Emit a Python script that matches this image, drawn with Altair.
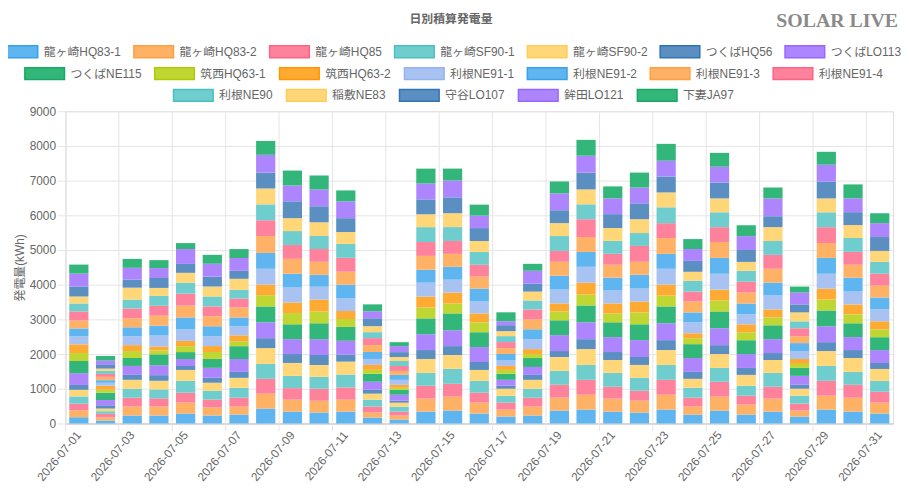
import altair as alt
import pandas as pd

dates = [f"2026-07-{d:02d}" for d in range(1, 32)]
label_dates = [f"2026-07-{d:02d}" for d in range(1, 32, 2)]

series = ["龍ヶ崎HQ83-1", "龍ヶ崎HQ83-2", "龍ヶ崎HQ85", "龍ヶ崎SF90-1", "龍ヶ崎SF90-2",
          "つくばHQ56", "つくばLO113", "つくばNE115", "筑西HQ63-1", "筑西HQ63-2",
          "利根NE91-1", "利根NE91-2", "利根NE91-3", "利根NE91-4", "利根NE90",
          "稲敷NE83", "守谷LO107", "鉾田LO121", "下妻JA97"]

# daily values per series (kWh), bottom to top of each stack
jul01 = [180, 200, 190, 210, 190, 140, 340, 350, 230, 250, 230, 230, 230, 260, 230, 200, 290, 370, 260]
jul02 = [86, 86, 105, 76, 76, 95, 152, 210, 86, 114, 86, 76, 95, 86, 86, 67, 105, 124, 133]
jul03 = [230, 257, 257, 257, 257, 143, 257, 229, 200, 171, 257, 257, 257, 286, 257, 343, 229, 343, 257]
jul04 = [230, 257, 238, 257, 248, 162, 286, 314, 114, 114, 314, 286, 286, 286, 286, 229, 286, 286, 229]
jul05 = [286, 314, 286, 343, 314, 114, 200, 200, 171, 152, 333, 343, 343, 343, 314, 286, 257, 429, 171]
jul06 = [230, 229, 229, 257, 229, 143, 286, 257, 200, 171, 286, 286, 286, 286, 286, 286, 286, 371, 257]
jul07 = [257, 229, 257, 286, 286, 171, 371, 371, 143, 171, 257, 257, 286, 257, 257, 314, 229, 371, 257]
jul08 = [429, 429, 429, 429, 457, 286, 457, 457, 324, 305, 457, 457, 486, 457, 457, 457, 457, 514, 400]
jul09 = [343, 343, 333, 353, 372, 257, 429, 429, 324, 305, 429, 400, 429, 400, 400, 372, 486, 457, 429]
jul10 = [314, 343, 343, 343, 343, 286, 457, 457, 343, 343, 372, 343, 372, 372, 372, 400, 457, 486, 400]
jul11 = [343, 343, 353, 372, 372, 200, 400, 400, 229, 229, 362, 400, 372, 400, 400, 343, 400, 486, 314]
jul12 = [172, 143, 172, 200, 172, 114, 229, 229, 114, 143, 172, 200, 200, 200, 172, 172, 229, 200, 200]
jul13 = [114, 114, 114, 143, 114, 57, 172, 143, 57, 86, 143, 143, 114, 143, 143, 114, 143, 172, 114]
jul14 = [343, 372, 372, 372, 400, 257, 457, 457, 314, 314, 400, 372, 400, 400, 429, 372, 429, 457, 429]
jul15 = [372, 400, 372, 429, 400, 257, 457, 486, 286, 314, 372, 372, 372, 372, 400, 400, 457, 486, 343]
jul16 = [286, 314, 286, 343, 314, 229, 429, 429, 286, 257, 343, 372, 343, 343, 372, 314, 372, 362, 314]
jul17 = [200, 200, 200, 200, 200, 86, 172, 172, 114, 114, 172, 172, 172, 172, 172, 143, 172, 114, 257]
jul18 = [229, 257, 257, 257, 257, 143, 229, 257, 114, 143, 286, 286, 286, 286, 257, 257, 229, 372, 200]
jul19 = [372, 372, 372, 400, 400, 172, 457, 429, 257, 229, 400, 400, 400, 314, 429, 372, 372, 486, 343]
jul20 = [400, 429, 429, 429, 457, 286, 486, 486, 314, 343, 457, 429, 429, 514, 429, 429, 486, 486, 457]
jul21 = [343, 372, 343, 400, 372, 229, 429, 429, 257, 286, 372, 372, 372, 314, 372, 372, 400, 457, 343]
jul22 = [314, 343, 286, 372, 372, 229, 486, 457, 343, 314, 372, 400, 372, 457, 372, 400, 457, 457, 429]
jul23 = [400, 429, 429, 429, 429, 286, 486, 486, 314, 314, 457, 429, 457, 429, 457, 429, 457, 457, 486]
jul24 = [257, 229, 257, 286, 257, 200, 400, 400, 172, 143, 314, 286, 314, 286, 314, 257, 314, 343, 286]
jul25 = [372, 400, 429, 400, 400, 257, 486, 486, 314, 314, 457, 457, 457, 429, 429, 400, 457, 457, 400]
jul26 = [257, 286, 257, 286, 314, 200, 400, 400, 229, 229, 286, 314, 314, 314, 314, 257, 343, 400, 314]
jul27 = [343, 372, 343, 400, 372, 200, 400, 400, 229, 229, 400, 372, 400, 400, 400, 400, 314, 514, 314]
jul28 = [200, 172, 200, 229, 200, 114, 257, 229, 114, 143, 229, 229, 200, 229, 200, 257, 229, 343, 172]
jul29 = [400, 400, 429, 429, 429, 257, 457, 457, 314, 314, 429, 457, 429, 457, 429, 400, 486, 486, 372]
jul30 = [343, 400, 372, 372, 400, 229, 372, 400, 257, 286, 372, 400, 372, 372, 400, 372, 372, 400, 400]
jul31 = [286, 314, 314, 314, 343, 172, 372, 372, 229, 229, 343, 343, 343, 343, 343, 314, 400, 400, 286]

days = [jul01, jul02, jul03, jul04, jul05, jul06, jul07, jul08, jul09, jul10, jul11,
        jul12, jul13, jul14, jul15, jul16, jul17, jul18, jul19, jul20, jul21, jul22,
        jul23, jul24, jul25, jul26, jul27, jul28, jul29, jul30, jul31]

base_fill = ["#5eb5ef", "#ffb266", "#ff829d", "#6fcdcd", "#ffd778", "#5b8fc2",
             "#ad85ff", "#33b679", "#c0d633", "#ffab33", "#a8c3f2"]
base_stroke = ["#36a2eb", "#ff9f40", "#ff6384", "#4bc0c0", "#ffcd56", "#3273b3",
               "#9966ff", "#1aa865", "#b0cc00", "#ff9600", "#92b4ef"]
fills = [base_fill[i % 11] for i in range(len(series))]
strokes = [base_stroke[i % 11] for i in range(len(series))]

rows = []
for date, vals in zip(dates, days):
    for i, (name, v) in enumerate(zip(series, vals)):
        rows.append({"date": date, "series": name, "idx": i, "kwh": v})
df = pd.DataFrame(rows)

FONT = "Liberation Sans, Noto Sans CJK JP, sans-serif"
W, H = 835, 315

x_enc = alt.X("date:O", sort=dates,
              scale=alt.Scale(domain=dates, paddingInner=0, paddingOuter=0),
              axis=alt.Axis(values=label_dates, labelAngle=-50, labelAlign="right",
                            labelBaseline="middle", labelPadding=9, ticks=False,
                            grid=False, title=None, labelFontSize=12, labelColor="#666",
                            domainColor="#c4c4c4", labelFont=FONT))
y_enc = alt.Y("kwh:Q", stack="zero",
              scale=alt.Scale(domain=[0, 9000], nice=False),
              axis=alt.Axis(values=list(range(0, 9001, 1000)), format="d",
                            labelOverlap=False, title="発電量(kWh)",
                            titleFontSize=12, titleColor="#666", titleFontWeight="normal",
                            titleFont=FONT, titlePadding=3, labelFontSize=12,
                            labelColor="#666", labelFont=FONT, tickSize=8,
                            tickColor="#e5e5e5", gridColor="#e5e5e5",
                            domainColor="#e5e5e5", labelPadding=2))

bars = alt.Chart(df).mark_bar(width=alt.RelativeBandSize(0.72)).encode(
    x=x_enc,
    y=y_enc,
    fill=alt.Fill("series:N", scale=alt.Scale(domain=series, range=fills), legend=None),
    order=alt.Order("idx:Q", sort="ascending"),
)

grid_df = pd.DataFrame({"date": label_dates})
vgrid = alt.Chart(grid_df).mark_rule(color="#e5e5e5", strokeWidth=1).encode(
    x=alt.X("date:O", bandPosition=0),
    y=alt.value(0),
    y2=alt.value(H + 8),
)

row_groups = [series[0:7], series[7:14], series[14:19]]
# (legendX, legendY, columnPadding) for each legend row
legend_pos = [(-69, -81, 9), (-42, -59, 10), (108, -37, 10)]

legend_layers = []
for grp, (lx, ly, cp) in zip(row_groups, legend_pos):
    gi = [series.index(s) for s in grp]
    leg = alt.Legend(orient="none", legendX=lx, legendY=ly, direction="horizontal",
                     columns=len(grp), title=None, padding=0,
                     symbolType="M-1,-0.3H1V0.3H-1Z", symbolSize=1600,
                     symbolStrokeWidth=1.5, symbolOpacity=1,
                     labelFontSize=12, labelColor="#666", labelFont=FONT,
                     labelOffset=5, columnPadding=cp, labelLimit=300)
    layer = alt.Chart(df).transform_filter("false").mark_point(filled=True).encode(
        fill=alt.Fill("series:N", scale=alt.Scale(domain=grp, range=[fills[i] for i in gi]),
                      legend=leg),
        stroke=alt.Stroke("series:N", scale=alt.Scale(domain=grp, range=[strokes[i] for i in gi]),
                          legend=leg),
    )
    legend_layers.append(layer)

brand = alt.Chart(pd.DataFrame({"t": ["SOLAR LIVE"]})).mark_text(
    font="Liberation Serif, DejaVu Serif, serif", fontSize=20, color="#8a8a8a",
    align="right", baseline="alphabetic", fontWeight="bold"
).encode(text="t:N", x=alt.value(W + 5), y=alt.value(-85))

heading = alt.Chart(pd.DataFrame({"t": ["日別積算発電量"]})).mark_text(
    font=FONT, fontSize=12, color="#666", fontWeight="bold",
    align="center", baseline="middle"
).encode(text="t:N", x=alt.value(389), y=alt.value(-93))

chart = alt.layer(vgrid, bars, *legend_layers, brand, heading).resolve_scale(
    fill="independent", stroke="independent"
).properties(
    width=W, height=H,
    autosize=alt.AutoSizeParams(type="none"),
    padding={"left": 58, "top": 102, "right": 8, "bottom": 70},
).configure_view(stroke=None).configure(font=FONT)

chart.save("out.html", embed_options={"renderer": "svg", "actions": False})
